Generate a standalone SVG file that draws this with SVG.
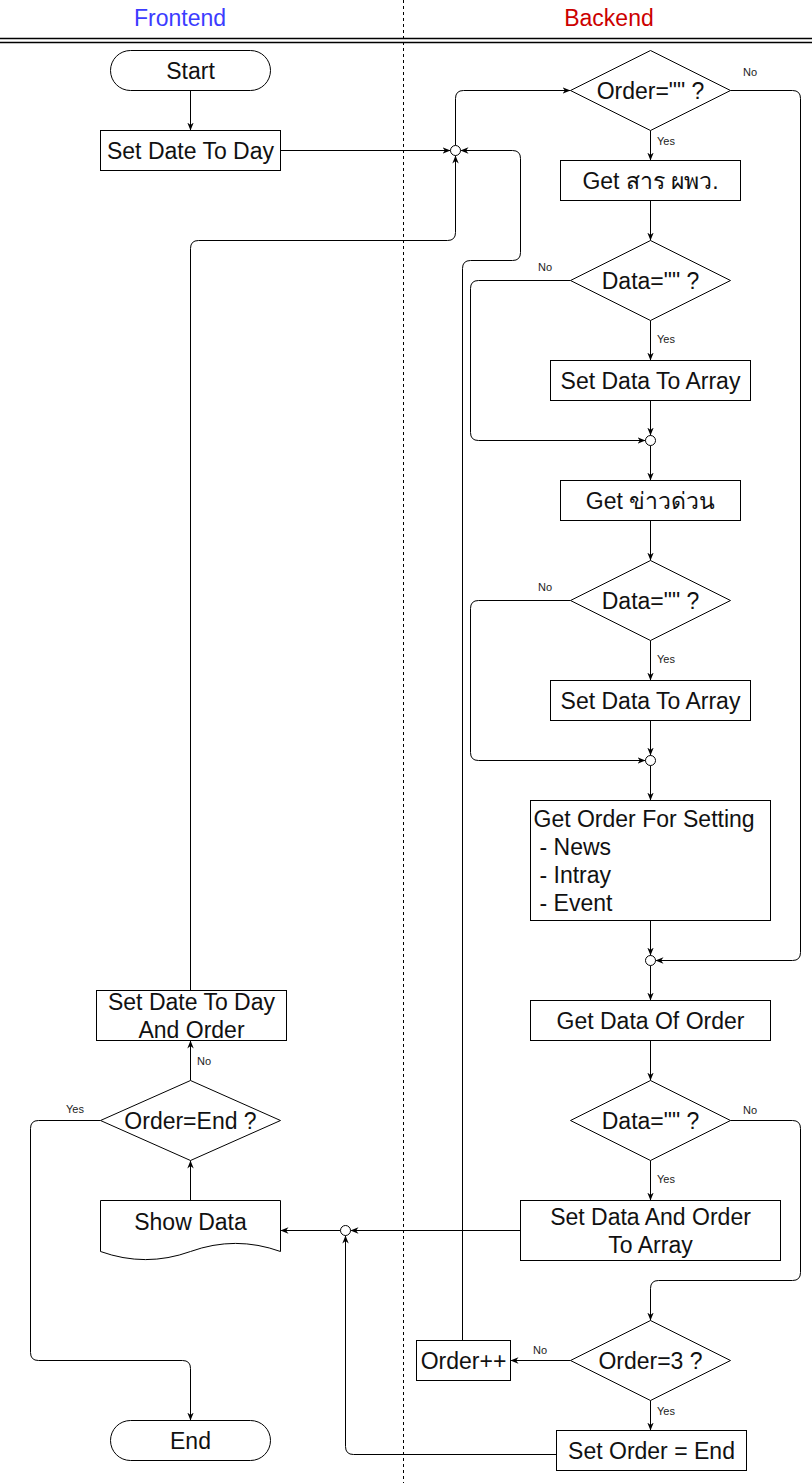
<svg xmlns="http://www.w3.org/2000/svg" width="812" height="1483" viewBox="0 0 812 1483">
<style>
.s{fill:#fff;stroke:#000;stroke-width:1}
.t{font-family:"Liberation Sans",Arial,"Noto Sans","DejaVu Sans",sans-serif;font-size:23px;fill:#111;text-anchor:middle}
.tl{font-family:"Liberation Sans",Arial,"Noto Sans",sans-serif;font-size:23px;fill:#111}
.l{font-family:"Liberation Sans",Arial,sans-serif;font-size:11px;fill:#222}
.c{fill:none;stroke:#000;stroke-width:1}
.h{font-family:"Liberation Sans",Arial,sans-serif;font-size:23px;text-anchor:middle}
</style>
<defs>
<marker id="a" viewBox="0 0 10 10" refX="10" refY="5" markerWidth="8" markerHeight="8" orient="auto" markerUnits="userSpaceOnUse">
<path d="M0,1 L10,5 L0,9 L3,5 z" fill="#000"/>
</marker>
</defs>
<rect width="812" height="1483" fill="#fff"/>
<g id="header">
<text class="h" x="180" y="26" fill="#3c3cff">Frontend</text>
<text class="h" x="609" y="26" fill="#cc0000">Backend</text>
<line x1="0" y1="38.5" x2="812" y2="38.5" stroke="#000" stroke-width="1.5"/>
<line x1="0" y1="42.5" x2="812" y2="42.5" stroke="#000" stroke-width="1.5"/>
<line x1="403.5" y1="0" x2="403.5" y2="1483" stroke="#000" stroke-width="1" stroke-dasharray="3,3"/>
</g>
<g id="connectors" transform="translate(0.5,0.5)">
<path class="c" marker-end="url(#a)" d="M190,90 L190,130"/>
<path class="c" marker-end="url(#a)" d="M280,150 L450,150"/>
<path class="c" marker-end="url(#a)" d="M455,145 L455,98 Q455,90 463,90 L570,90"/>
<path class="c" marker-end="url(#a)" d="M730,90 L792,90 Q800,90 800,98 L800,952 Q800,960 792,960 L655,960"/>
<path class="c" marker-end="url(#a)" d="M650,130 L650,160"/>
<path class="c" marker-end="url(#a)" d="M650,200 L650,240"/>
<path class="c" marker-end="url(#a)" d="M570,280 L478,280 Q470,280 470,288 L470,432 Q470,440 478,440 L645,440"/>
<path class="c" marker-end="url(#a)" d="M650,320 L650,360"/>
<path class="c" marker-end="url(#a)" d="M650,400 L650,435"/>
<path class="c" marker-end="url(#a)" d="M650,445 L650,480"/>
<path class="c" marker-end="url(#a)" d="M650,520 L650,560"/>
<path class="c" marker-end="url(#a)" d="M570,600 L478,600 Q470,600 470,608 L470,752 Q470,760 478,760 L645,760"/>
<path class="c" marker-end="url(#a)" d="M650,640 L650,680"/>
<path class="c" marker-end="url(#a)" d="M650,720 L650,755"/>
<path class="c" marker-end="url(#a)" d="M650,765 L650,800"/>
<path class="c" marker-end="url(#a)" d="M650,920 L650,955"/>
<path class="c" marker-end="url(#a)" d="M650,965 L650,1000"/>
<path class="c" marker-end="url(#a)" d="M650,1040 L650,1080"/>
<path class="c" marker-end="url(#a)" d="M730,1120 L792,1120 Q800,1120 800,1128 L800,1272 Q800,1280 792,1280 L658,1280 Q650,1280 650,1288 L650,1320"/>
<path class="c" marker-end="url(#a)" d="M650,1160 L650,1200"/>
<path class="c" marker-end="url(#a)" d="M520,1230 L350,1230"/>
<path class="c" marker-end="url(#a)" d="M340,1230 L280,1230"/>
<path class="c" marker-end="url(#a)" d="M570,1360 L510,1360"/>
<path class="c" marker-end="url(#a)" d="M650,1400 L650,1430"/>
<path class="c" marker-end="url(#a)" d="M556,1454 L353,1454 Q345,1454 345,1446 L345,1235"/>
<path class="c" marker-end="url(#a)" d="M462,1340 L462,268 Q462,260 470,260 L512,260 Q520,260 520,252 L520,158 Q520,150 512,150 L460,150"/>
<path class="c" marker-end="url(#a)" d="M190,1200 L190,1160"/>
<path class="c" marker-end="url(#a)" d="M190,1080 L190,1040"/>
<path class="c" marker-end="url(#a)" d="M100,1120 L38,1120 Q30,1120 30,1128 L30,1352 Q30,1360 38,1360 L182,1360 Q190,1360 190,1368 L190,1420"/>
<path class="c" marker-end="url(#a)" d="M190,990 L190,248 Q190,240 198,240 L447,240 Q455,240 455,232 L455,155"/>
</g>
<g id="edge-labels">
<text class="l" x="750" y="76" text-anchor="middle">No</text>
<text class="l" x="657" y="145">Yes</text>
<text class="l" x="538" y="271">No</text>
<text class="l" x="657" y="343">Yes</text>
<text class="l" x="538" y="591">No</text>
<text class="l" x="657" y="663">Yes</text>
<text class="l" x="750" y="1114" text-anchor="middle">No</text>
<text class="l" x="657" y="1183">Yes</text>
<text class="l" x="533" y="1354">No</text>
<text class="l" x="657" y="1415">Yes</text>
<text class="l" x="197" y="1065">No</text>
<text class="l" x="66" y="1113">Yes</text>
</g>
<g transform="translate(0.5,0.5)">
<g id="start"><rect class="s" x="110" y="50" width="160" height="40" rx="20"/><text class="t" x="190" y="78">Start</text></g>
<g id="setDate"><rect class="s" x="100" y="130" width="180" height="40"/><text class="t" x="190" y="158">Set Date To Day</text></g>
<g id="j1"><circle class="s" cx="455" cy="150" r="5"/></g>
<g id="orderEmpty"><polygon class="s" points="650,50 730,90 650,130 570,90"/><text class="t" x="650" y="98">Order="" ?</text></g>
<g id="getSar"><rect class="s" x="560" y="160" width="180" height="40"/><text class="t" x="650" y="188">Get สาร ผพว.</text></g>
<g id="data1"><polygon class="s" points="650,240 730,280 650,320 570,280"/><text class="t" x="650" y="288">Data="" ?</text></g>
<g id="setArr1"><rect class="s" x="550" y="360" width="200" height="40"/><text class="t" x="650" y="388">Set Data To Array</text></g>
<g id="j2"><circle class="s" cx="650" cy="440" r="5"/></g>
<g id="getNews"><rect class="s" x="560" y="480" width="180" height="40"/><text class="t" x="650" y="508">Get ข่าวด่วน</text></g>
<g id="data2"><polygon class="s" points="650,560 730,600 650,640 570,600"/><text class="t" x="650" y="608">Data="" ?</text></g>
<g id="setArr2"><rect class="s" x="550" y="680" width="200" height="40"/><text class="t" x="650" y="708">Set Data To Array</text></g>
<g id="j3"><circle class="s" cx="650" cy="760" r="5"/></g>
<g id="getOrder"><rect class="s" x="530" y="800" width="240" height="120"/>
<text class="tl" x="533" y="826">Get Order For Setting</text>
<text class="tl" x="539" y="854">- News</text>
<text class="tl" x="539" y="882">- Intray</text>
<text class="tl" x="539" y="910">- Event</text></g>
<g id="j4"><circle class="s" cx="650" cy="960" r="5"/></g>
<g id="getDataOrder"><rect class="s" x="530" y="1000" width="240" height="40"/><text class="t" x="650" y="1028">Get Data Of Order</text></g>
<g id="data3"><polygon class="s" points="650,1080 730,1120 650,1160 570,1120"/><text class="t" x="650" y="1128">Data="" ?</text></g>
<g id="setDataOrder"><rect class="s" x="520" y="1200" width="260" height="60"/><text class="t" x="650" y="1224">Set Data And Order</text><text class="t" x="650" y="1252">To Array</text></g>
<g id="order3"><polygon class="s" points="650,1320 730,1360 650,1400 570,1360"/><text class="t" x="650" y="1368">Order=3 ?</text></g>
<g id="orderInc"><rect class="s" x="416" y="1340" width="94" height="40"/><text class="t" x="463" y="1368">Order++</text></g>
<g id="setOrderEnd"><rect class="s" x="556" y="1430" width="190" height="40"/><text class="t" x="651" y="1458">Set Order = End</text></g>
<g id="j5"><circle class="s" cx="345" cy="1230" r="5"/></g>
<g id="showData"><path class="s" d="M100,1200 L280,1200 L280,1251 Q235,1234.8 190,1251 Q145,1267.2 100,1251 Z"/><text class="t" x="190" y="1229">Show Data</text></g>
<g id="orderEnd"><polygon class="s" points="190,1080 280,1120 190,1160 100,1120"/><text class="t" x="190" y="1128">Order=End ?</text></g>
<g id="setDateOrder"><rect class="s" x="96" y="990" width="190" height="50"/><text class="t" x="191" y="1009">Set Date To Day</text><text class="t" x="191" y="1037">And Order</text></g>
<g id="end"><rect class="s" x="110" y="1420" width="160" height="40" rx="20"/><text class="t" x="190" y="1448">End</text></g>
</g>
</svg>
